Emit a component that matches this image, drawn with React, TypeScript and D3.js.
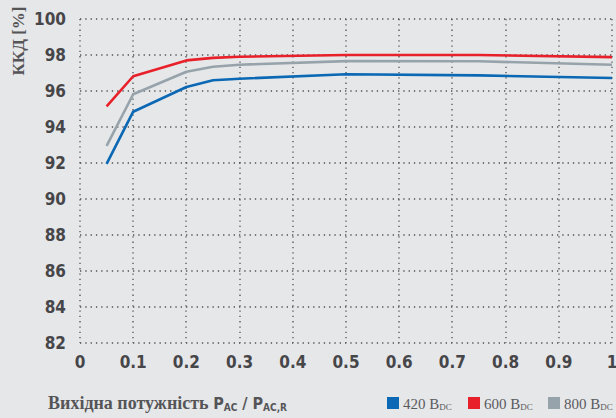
import React, { useEffect, useRef } from "react";
import * as d3 from "d3";

// load levels (P_AC / P_AC,R)
const loads = [0.05, 0.1, 0.2, 0.25, 0.3, 0.5, 0.75, 1.0];
const eff420 = [91.95, 94.85, 96.22, 96.6, 96.68, 96.93, 96.87, 96.72];
const eff600 = [95.15, 96.82, 97.7, 97.84, 97.9, 98.0, 98.0, 97.88];
const eff800 = [92.95, 95.82, 97.07, 97.35, 97.46, 97.66, 97.65, 97.46];

const xTicks = [0, 0.1, 0.2, 0.3, 0.4, 0.5, 0.6, 0.7, 0.8, 0.9, 1];
const yTicks = [82, 84, 86, 88, 90, 92, 94, 96, 98, 100];

const series = [
  { name: "420", color: "#0a68b4", values: eff420 },
  { name: "800", color: "#97a3ab", values: eff800 },
  { name: "600", color: "#e8202a", values: eff600 },
];
const legendOrder = ["420", "600", "800"];

const W = 616;
const H = 418;
const sansCond = "'DejaVu Sans Condensed', 'Liberation Sans Narrow', 'DejaVu Sans', sans-serif";
const serif = "'Liberation Serif', 'DejaVu Serif', serif";

export default function App() {
  const svgRef = useRef<SVGSVGElement>(null);

  useEffect(() => {
    const svg = d3.select(svgRef.current);
    svg.selectAll("*").remove();

    const x = d3.scaleLinear().domain([0, 1]).range([80, 612]);
    const y = d3.scaleLinear().domain([82, 100]).range([343, 19]);

    svg.append("rect").attr("width", W).attr("height", H).attr("fill", "#e6e7e9");

    // dotted grid
    const dotted = (sel: any) =>
      sel
        .style("stroke", "#505053")
        .style("stroke-width", "1.3px")
        .style("stroke-dasharray", "1.3 4")
        .style("fill", "none");

    svg.append("g").selectAll("line")
      .data(yTicks)
      .join("line")
      .attr("x1", x(0)).attr("x2", x(1))
      .attr("y1", d => Math.round(y(d))).attr("y2", d => Math.round(y(d)))
      .call(dotted);

    svg.append("g").selectAll("line")
      .data(xTicks)
      .join("line")
      .attr("x1", d => Math.round(x(d))).attr("x2", d => Math.round(x(d)))
      .attr("y1", y(100)).attr("y2", y(82))
      .call(dotted);

    // y tick labels
    svg.append("g").selectAll("text")
      .data(yTicks)
      .join("text")
      .attr("x", 66)
      .attr("y", d => y(d) + 6)
      .attr("text-anchor", "end")
      .style("font-family", sansCond)
      .style("font-weight", "bold")
      .style("font-size", "17px")
      .style("fill", "#464649")
      .text(d => d);

    // x tick labels
    svg.append("g").selectAll("text")
      .data(xTicks)
      .join("text")
      .attr("x", d => x(d))
      .attr("y", 368)
      .attr("text-anchor", "middle")
      .style("font-family", sansCond)
      .style("font-weight", "bold")
      .style("font-size", "17px")
      .style("fill", "#464649")
      .text(d => (d === 0 || d === 1 ? String(d) : d.toFixed(1)));

    const line = d3.line<number>()
      .x((_, i) => x(loads[i]))
      .y(d => y(d));

    svg.append("g").selectAll("path")
      .data(series)
      .join("path")
      .attr("d", d => line(d.values))
      .attr("fill", "none")
      .attr("stroke", d => d.color)
      .attr("stroke-width", 2.6)
      .attr("stroke-linejoin", "round");

    // y axis title
    svg.append("text")
      .attr("transform", "translate(24,41) rotate(-90)")
      .attr("text-anchor", "middle")
      .style("font-family", serif)
      .style("font-weight", "bold")
      .style("font-size", "17px")
      .style("fill", "#555558")
      .text("ККД [%]");

    // x axis title
    const xt = svg.append("text")
      .attr("x", 48)
      .attr("y", 409)
      .style("fill", "#555558");
    xt.append("tspan").style("font-family", serif).style("font-weight", "bold").style("font-size", "18px").text("Вихідна потужність ");
    xt.append("tspan").style("font-family", sansCond).style("font-weight", "bold").style("font-size", "16px").text("P");
    xt.append("tspan").style("font-family", sansCond).style("font-weight", "bold").style("font-size", "10px").attr("dy", 2).text("AC");
    xt.append("tspan").style("font-family", sansCond).style("font-weight", "bold").style("font-size", "16px").attr("dy", -2).text(" / P");
    xt.append("tspan").style("font-family", sansCond).style("font-weight", "bold").style("font-size", "10px").attr("dy", 2).text("AC,R");

    // legend
    const legendX = [387, 468, 548];
    const lg = svg.append("g").selectAll("g")
      .data(legendOrder)
      .join("g")
      .attr("transform", (_, i) => `translate(${legendX[i]},397)`);
    lg.append("rect")
      .attr("width", 12).attr("height", 12)
      .attr("fill", d => series.find(s => s.name === d)!.color);
    const lt = lg.append("text")
      .attr("x", 16)
      .attr("y", 12)
      .style("font-family", serif)
      .style("font-size", "15px")
      .style("fill", "#5a5a5d");
    lt.append("tspan").text(d => `${d} B`);
    lt.append("tspan").style("font-size", "9px").attr("dy", 1).text("DC");
  }, []);

  return (
    <svg
      ref={svgRef}
      width={W}
      height={H}
      style={{ position: "fixed", top: 0, left: 0, display: "block" }}
    />
  );
}
